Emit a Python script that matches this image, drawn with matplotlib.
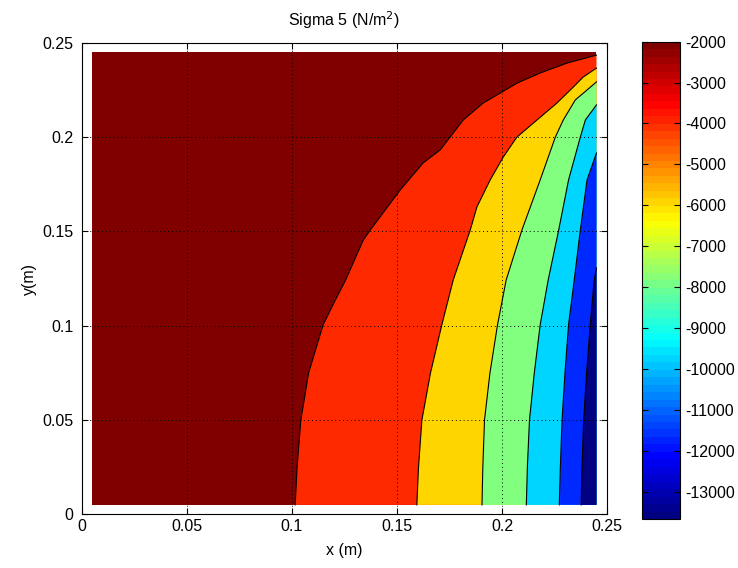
import numpy as np
import matplotlib
matplotlib.use('Agg')
import matplotlib.pyplot as plt
from matplotlib import cm, colors

plt.rcParams['font.family'] = ['Liberation Sans', 'DejaVu Sans']
plt.rcParams['font.size'] = 11.5
plt.rcParams['axes.unicode_minus'] = False

# domain of the plate (m)
x_min, x_max = 0.005, 0.245
y_min, y_max = 0.005, 0.245

# value of each filled band, from the outer (top-left) band to the corner band
band_values = [-2000, -3945, -5890, -7835, -9780, -11725, -13670]
c_min, c_max = -13670, -2000

# contour boundaries (x, y) from bottom edge to right edge
b1_x = [0.1016, 0.1025, 0.1043, 0.1080, 0.1149, 0.1197, 0.1256, 0.1340, 0.1373,
        0.1516, 0.1625, 0.1706, 0.1816, 0.1911, 0.2073, 0.2182, 0.2311, 0.2450]
b1_y = [0.0050, 0.0250, 0.0500, 0.0750, 0.1005, 0.1114, 0.1242, 0.1454, 0.1507,
        0.1720, 0.1863, 0.1932, 0.2091, 0.2181, 0.2287, 0.2340, 0.2393, 0.2435]

b2_x = [0.1595, 0.1603, 0.1619, 0.1660, 0.1714, 0.1768, 0.1849, 0.1881, 0.1944,
        0.2006, 0.2071, 0.2167, 0.2262, 0.2340, 0.2387, 0.2450]
b2_y = [0.0050, 0.0250, 0.0500, 0.0750, 0.1005, 0.1242, 0.1507, 0.1630, 0.1773,
        0.1894, 0.2000, 0.2091, 0.2181, 0.2266, 0.2319, 0.2366]

b3_x = [0.1905, 0.1909, 0.1917, 0.1943, 0.1979, 0.2020, 0.2095, 0.2182, 0.2254,
        0.2292, 0.2349, 0.2405, 0.2450]
b3_y = [0.0050, 0.0250, 0.0500, 0.0750, 0.1005, 0.1242, 0.1507, 0.1773, 0.2000,
        0.2091, 0.2197, 0.2250, 0.2293]

b4_x = [0.2116, 0.2121, 0.2131, 0.2154, 0.2182, 0.2220, 0.2270, 0.2317, 0.2373,
        0.2397, 0.2450]
b4_y = [0.0050, 0.0250, 0.0500, 0.0750, 0.1005, 0.1242, 0.1507, 0.1773, 0.2000,
        0.2091, 0.2171]

b5_x = [0.2273, 0.2278, 0.2286, 0.2300, 0.2317, 0.2344, 0.2373, 0.2405, 0.2450]
b5_y = [0.0050, 0.0250, 0.0500, 0.0750, 0.1005, 0.1242, 0.1507, 0.1773, 0.1916]

b6_x = [0.2377, 0.2381, 0.2389, 0.2403, 0.2420, 0.2439, 0.2450]
b6_y = [0.0050, 0.0250, 0.0500, 0.0750, 0.1005, 0.1242, 0.1306]

boundaries = [(b1_x, b1_y), (b2_x, b2_y), (b3_x, b3_y),
              (b4_x, b4_y), (b5_x, b5_y), (b6_x, b6_y)]

# MATLAB style jet with 64 steps
jet_anchors = [(0.0, (0, 0, 0.5)), (0.125, (0, 0, 1)), (0.375, (0, 1, 1)),
               (0.625, (1, 1, 0)), (0.875, (1, 0, 0)), (1.0, (0.5, 0, 0))]
cmap = colors.LinearSegmentedColormap.from_list('mjet', jet_anchors, N=64)
norm = colors.Normalize(vmin=c_min, vmax=c_max)
smooth = colors.LinearSegmentedColormap.from_list('mjet_s', jet_anchors, N=256)

fig = plt.figure(figsize=(7.38, 5.68), dpi=100)
ax = fig.add_axes([0.1107, 0.0945, 0.7118, 0.8301])

# outer band covers the whole plate, each next band is painted over it
ax.fill([x_min, x_max, x_max, x_min], [y_min, y_min, y_max, y_max],
        color=smooth(norm(band_values[0])), lw=0, zorder=1)
for (bx, by), val in zip(boundaries, band_values[1:]):
    px = list(bx) + [x_max]
    py = list(by) + [y_min]
    ax.fill(px, py, color=smooth(norm(val)), lw=0, zorder=1)
for bx, by in boundaries:
    ax.plot(bx, by, color='black', lw=0.8, zorder=2)

ax.set_xlim(0, 0.25)
ax.set_ylim(0, 0.25)
ax.set_xticks([0, 0.05, 0.1, 0.15, 0.2, 0.25])
ax.set_yticks([0, 0.05, 0.1, 0.15, 0.2, 0.25])
ax.set_xticklabels(['0', '0.05', '0.1', '0.15', '0.2', '0.25'])
ax.set_yticklabels(['0', '0.05', '0.1', '0.15', '0.2', '0.25'])
ax.tick_params(direction='in', top=True, right=True, length=4, width=0.8)
ax.tick_params(axis='y', pad=6)
ax.set_axisbelow(False)
ax.grid(True, color='black', linestyle=(0, (1, 3)), linewidth=0.7)
for s in ax.spines.values():
    s.set_linewidth(0.8)

ax.set_xlabel('x (m)', labelpad=6)
ax.set_ylabel('y(m)', labelpad=4)
ax.set_title('Sigma 5 (N/m$^2$)', fontsize=11.5, pad=12)

cax = fig.add_axes([0.8695, 0.0863, 0.052, 0.8403])
sm = cm.ScalarMappable(norm=norm, cmap=cmap)
cb = fig.colorbar(sm, cax=cax)
cb.set_ticks(list(range(-13000, -1999, 1000)))
cb.ax.tick_params(direction='in', left=True, right=True, length=4, width=0.8)
cb.outline.set_linewidth(0.8)

fig.savefig('out.png', dpi=100)
